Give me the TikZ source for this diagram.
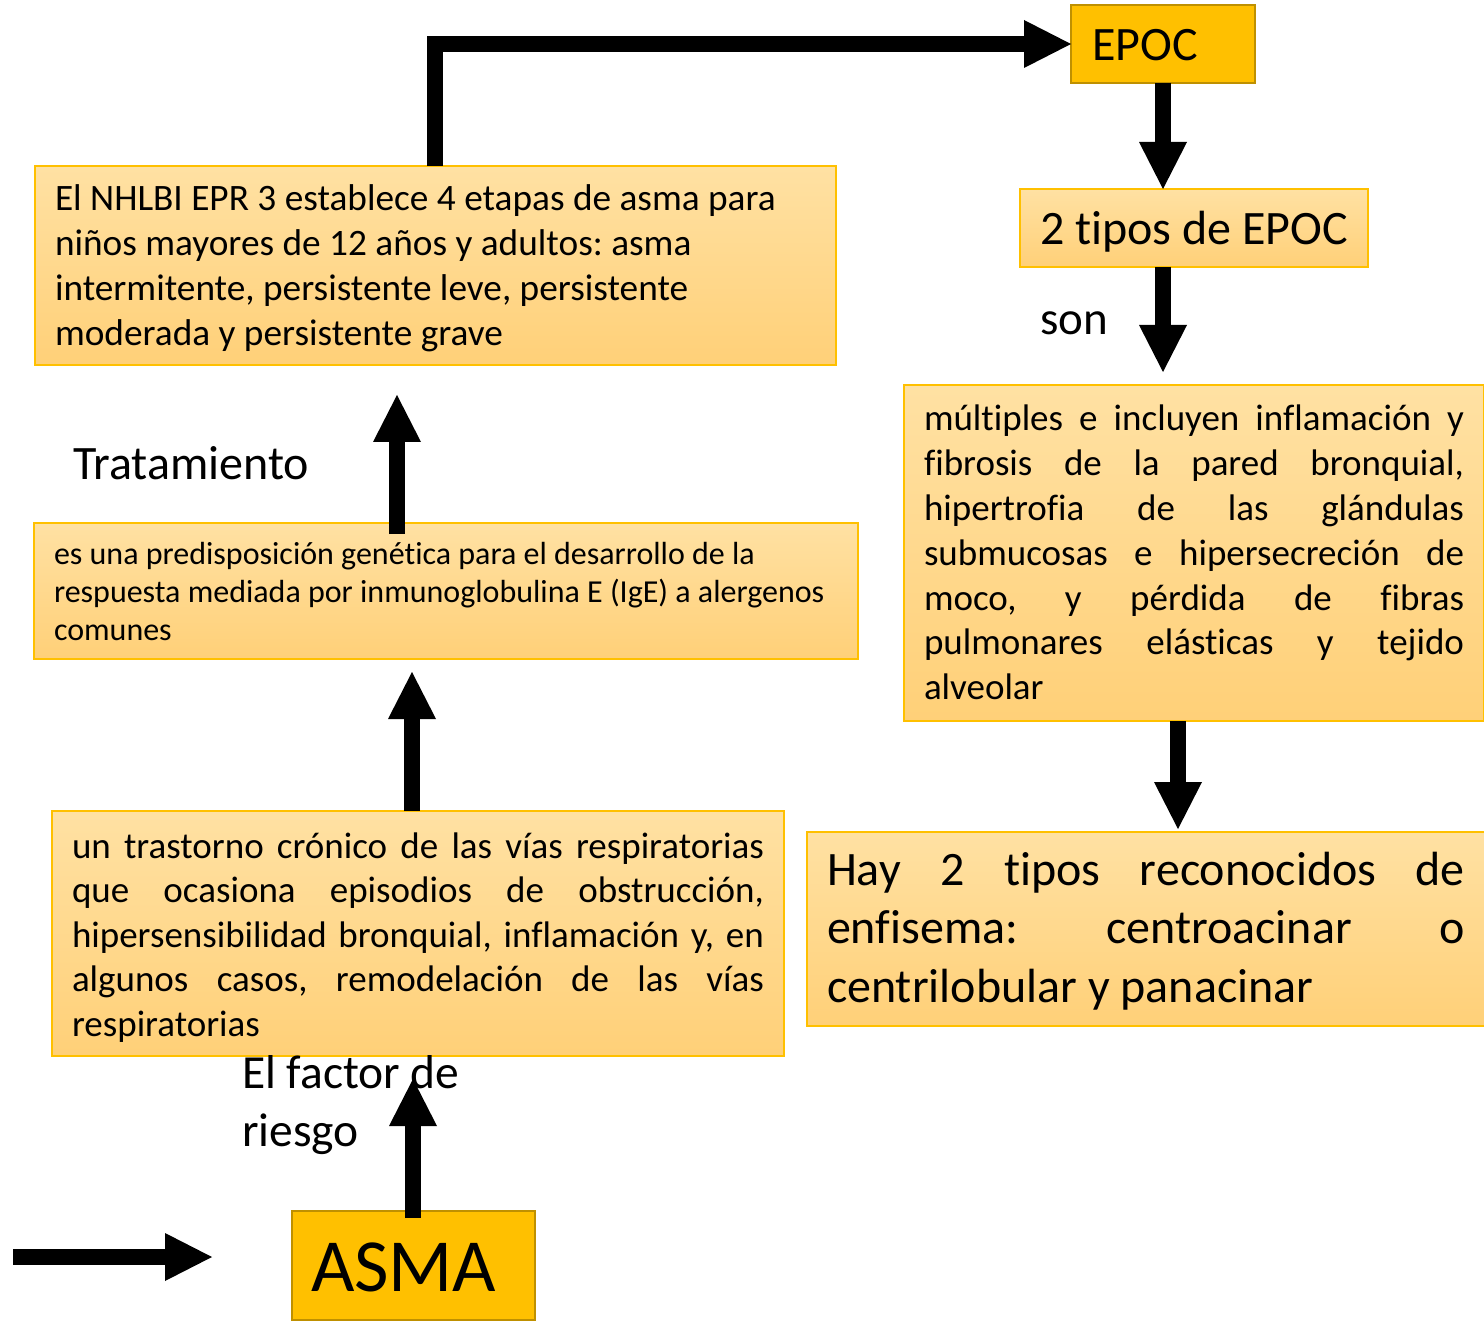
\documentclass[tikz,border=0pt]{standalone}
\usepackage{fontspec}
\setmainfont{Carlito}[Ligatures=NoCommon]
\usetikzlibrary{arrows.meta}
\definecolor{gold}{HTML}{FFC000}
\definecolor{darkgold}{HTML}{BF9000}
\definecolor{lighttop}{RGB}{255,225,163}
\definecolor{lightbot}{RGB}{255,208,120}
\tikzset{
  lbox/.style={rectangle, draw=gold, line width=1.5pt, top color=lighttop, bottom color=lightbot, anchor=north west, inner sep=0pt, outer sep=0pt},
  dbox/.style={rectangle, draw=darkgold, line width=2.5pt, fill=gold, anchor=north west, inner sep=0pt, outer sep=0pt},
  txt/.style={inner sep=0pt, outer sep=0pt, anchor=base west, align=left},
  arr/.style={line width=16pt, black, line join=miter, -{Triangle[length=47pt,width=48pt,line width=0pt]}},
}
\frenchspacing
\newcommand{\ns}{\spaceskip=0pt\xspaceskip=0pt\relax}
\newcommand{\jl}[1]{\makebox[\linewidth][s]{\ns #1}}
\begin{document}
\begin{tikzpicture}[x=1pt,y=-1pt]
\useasboundingbox (0,0) rectangle (1484,1321);
% boxes
\node[lbox, minimum width=801pt, minimum height=199pt] (nhlbi) at (35,166) {};
\node[lbox, minimum width=824pt, minimum height=136pt] (esuna) at (34,523) {};
\node[lbox, minimum width=732pt, minimum height=245pt] (trast) at (52,811) {};
\node[lbox, minimum width=580pt, minimum height=336pt] (mult) at (904,385) {};
\node[lbox, minimum width=678pt, minimum height=194pt] (hay) at (807,832) {};
\node[lbox, minimum width=348pt, minimum height=78pt] (tipos) at (1020,189) {};
\node[dbox, minimum width=184pt, minimum height=78pt] (epoc) at (1071,5) {};
\node[dbox, minimum width=243pt, minimum height=109pt] (asma) at (292,1211) {};
% texts
\node[txt, text width=761pt, font=\fontsize{37.3}{44.7}\selectfont] (nhlbiT) at (55,211)
 {\ns El NHLBI EPR 3 establece 4 etapas de asma para\\
  niños mayores de 12 años y adultos: asma\\
  intermitente, persistente leve, persistente\\
  moderada y persistente grave};
\node[txt, text width=783pt, font=\fontsize{32}{38}\selectfont] (esunaT) at (54,564)
 {\ns es una predisposición genética para el desarrollo de la\\
  respuesta mediada por inmunoglobulina E (IgE) a alergenos\\
  comunes};
\node[txt, text width=692pt, font=\fontsize{37}{44.6}\selectfont] (trastT) at (72,858)
 {\ns\jl{un trastorno crónico de las vías respiratorias}\\
  \jl{que ocasiona episodios de obstrucción,}\\
  \jl{hipersensibilidad bronquial, inflamación y, en}\\
  \jl{algunos casos, remodelación de las vías}\\
  respiratorias};
\node[txt, text width=540pt, font=\fontsize{37}{44.8}\selectfont] (multT) at (924,431)
 {\ns\jl{múltiples e incluyen inflamación y}\\
  \jl{fibrosis de la pared bronquial,}\\
  \jl{hipertrofia de las glándulas}\\
  \jl{submucosas e hipersecreción de}\\
  \jl{moco, y pérdida de fibras}\\
  \jl{pulmonares elásticas y tejido}\\
  alveolar};
\node[txt, text width=638pt, font=\fontsize{48}{58.5}\selectfont] (hayT) at (827,885)
 {\ns\jl{Hay 2 tipos reconocidos de}\\
  \jl{enfisema: centroacinar o}\\
  centrilobular y panacinar};
\node[txt, font=\fontsize{48}{58}\selectfont] (epocT) at (1092,61) {EPOC};
\node[txt, font=\fontsize{48}{58}\selectfont] (tiposT) at (1040,245) {\ns 2 tipos de EPOC};
\node[txt, font=\fontsize{47}{58}\selectfont] (son) at (1040,335) {son};
\node[txt, font=\fontsize{48}{58}\selectfont] (trat) at (73,479) {Tratamiento};
\node[txt, font=\fontsize{47.5}{58}\selectfont] (factor) at (242,1146) {\ns El factor de\\riesgo};
\node[txt, font=\fontsize{75}{90}\selectfont] (asmaT) at (311,1291) {ASMA};
% free ends
\coordinate (c1) at (435,166);
\coordinate (c3) at (1163,372);
\coordinate (c4a) at (1178,721);
\coordinate (c4b) at (1178,829);
\coordinate (c5a) at (397,534);
\coordinate (c5b) at (397,395);
\coordinate (c6a) at (412,811);
\coordinate (c6b) at (412,672);
\coordinate (c7a) at (413,1218);
\coordinate (c7b) at (413,1079);
\coordinate (c8a) at (13,1257);
\coordinate (c8b) at (212,1257);
% connectors
\draw[arr] (c1) |- (epoc.west);
\draw[arr] (epoc.south) -- (epoc.south |- tipos.north);
\draw[arr] (epoc.south |- tipos.south) -- (c3);
\draw[arr] (c4a) -- (c4b);
\draw[arr] (c5a) -- (c5b);
\draw[arr] (c6a) -- (c6b);
\draw[arr] (c7a) -- (c7b);
\draw[arr] (c8a) -- (c8b);
\end{tikzpicture}
\end{document}
